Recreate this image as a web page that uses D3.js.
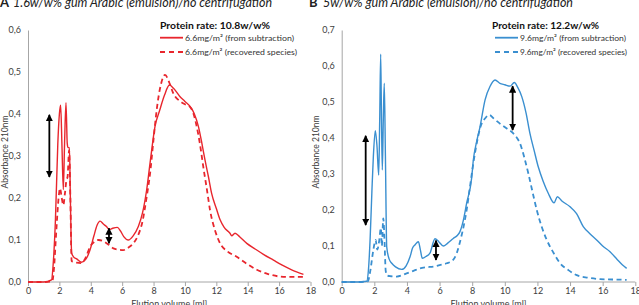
<!DOCTYPE html>
<html><head><meta charset="utf-8">
<script src="https://cdn.jsdelivr.net/npm/d3@7"></script>
<style>body{margin:0;background:#fff}svg{display:block}text{font-family:Lato,"Liberation Sans",sans-serif}</style>
</head><body><svg id="c" width="639" height="305"></svg>
<script>
// ---- data ----
const xTicks = [0,2,4,6,8,10,12,14,16,18];
const yTicksA = [0,0.1,0.2,0.3,0.4,0.5,0.6];
const yTicksB = [0,0.1,0.2,0.3,0.4,0.5,0.6,0.7];

const subA_x = [0,1.0,1.5,1.6,1.75,1.9,2.0,2.08,2.16,2.25,2.33,2.42,2.5,2.55,2.64,2.7,2.78,2.9,3.1,3.4,3.7,3.95,4.2,4.4,4.59,4.8,5.0,5.18,5.4,5.69,5.9,6.1,6.39,6.7,7.03,7.3,7.56,7.8,8.09,8.4,8.7,9.01,9.3,9.69,10.0,10.43,10.6,10.86,11.08,11.28,11.5,11.7,12.0,12.24,12.5,12.87,12.98,13.19,13.5,13.94,14.5,15.0,15.64,16.2,16.8,17.55];
const subA_y = [0,0,0.005,0.04,0.15,0.33,0.40,0.421,0.33,0.22,0.33,0.427,0.33,0.32,0.32,0.2,0.069,0.06,0.055,0.047,0.055,0.076,0.11,0.135,0.145,0.138,0.132,0.125,0.128,0.130,0.121,0.108,0.100,0.110,0.132,0.165,0.219,0.29,0.37,0.41,0.445,0.469,0.46,0.441,0.43,0.413,0.40,0.37,0.33,0.29,0.25,0.211,0.175,0.148,0.13,0.116,0.110,0.116,0.107,0.092,0.078,0.066,0.052,0.04,0.029,0.018];
const recA_x = [0,1.0,1.55,1.65,1.8,1.95,2.04,2.15,2.25,2.35,2.45,2.52,2.62,2.7,2.78,2.9,3.1,3.4,3.7,3.95,4.2,4.5,4.8,5.1,5.44,5.8,6.07,6.4,6.71,7.0,7.3,7.55,7.78,8.0,8.2,8.46,8.73,9.0,9.26,9.7,10.0,10.32,10.55,10.75,10.95,11.17,11.4,11.6,11.9,12.24,12.7,13.3,14.0,14.58,15.3,16.06,16.8,17.55];
const recA_y = [0,0,0.002,0.03,0.12,0.2,0.223,0.2,0.183,0.21,0.243,0.25,0.314,0.2,0.05,0.048,0.046,0.045,0.06,0.084,0.095,0.1,0.097,0.09,0.08,0.077,0.076,0.082,0.092,0.11,0.145,0.2,0.259,0.34,0.41,0.469,0.493,0.475,0.449,0.43,0.423,0.417,0.40,0.37,0.33,0.274,0.22,0.171,0.125,0.092,0.073,0.06,0.042,0.029,0.019,0.013,0.012,0.012];

const subB_x = [0,1.0,1.53,1.65,1.74,1.85,1.94,2.06,2.16,2.27,2.33,2.39,2.44,2.49,2.55,2.61,2.68,2.76,2.9,3.07,3.3,3.68,3.95,4.19,4.35,4.49,4.7,4.82,4.94,5.2,5.41,5.72,5.95,6.23,6.5,6.84,7.1,7.25,7.46,7.66,7.97,8.07,8.25,8.48,8.79,9.09,9.4,9.7,10.0,10.32,10.58,10.8,11.04,11.3,11.54,11.8,12.05,12.35,12.67,13.02,13.22,13.5,14.0,14.4,14.81,15.2,15.63,16.0,16.45,16.9,17.2,17.47];
const subB_y = [0,0,0.002,0.04,0.117,0.25,0.348,0.42,0.38,0.297,0.45,0.633,0.45,0.311,0.45,0.552,0.35,0.098,0.065,0.052,0.042,0.035,0.045,0.07,0.095,0.103,0.112,0.09,0.066,0.072,0.08,0.12,0.112,0.10,0.108,0.121,0.13,0.14,0.172,0.219,0.29,0.339,0.385,0.431,0.506,0.543,0.561,0.552,0.548,0.544,0.554,0.54,0.515,0.47,0.413,0.365,0.32,0.28,0.246,0.22,0.237,0.225,0.209,0.19,0.154,0.135,0.117,0.10,0.084,0.062,0.048,0.038];
const recB_x = [0,1.0,1.6,1.75,1.94,2.08,2.18,2.3,2.4,2.46,2.55,2.62,2.7,2.8,3.0,3.37,3.98,4.4,4.8,5.2,5.62,6.0,6.44,6.8,7.05,7.3,7.5,7.66,7.85,8.07,8.3,8.5,8.8,9.05,9.3,9.7,10.1,10.52,10.75,10.93,11.2,11.44,11.7,11.96,12.25,12.57,13.0,13.39,13.9,14.41,15.1,15.84,16.6,17.47];
const recB_y = [0,0,0.002,0.03,0.089,0.117,0.09,0.115,0.15,0.1,0.177,0.12,0.03,0.018,0.016,0.015,0.024,0.031,0.038,0.041,0.043,0.047,0.052,0.06,0.08,0.12,0.16,0.2,0.26,0.33,0.39,0.43,0.455,0.464,0.455,0.44,0.427,0.413,0.40,0.385,0.345,0.302,0.25,0.2,0.155,0.117,0.08,0.052,0.033,0.019,0.012,0.008,0.007,0.006];

// arrows: [x, yFrom, yTo]
const arrowsA = [[1.36,0.398,0.25],[5.16,0.128,0.092]];
const arrowsB = [[1.47,0.406,0.158],[5.78,0.115,0.061],[10.48,0.544,0.422]];

const titleA = ["A","1.6w/w% gum Arabic (emulsion)/no centrifugation"];
const titleB = ["B","5w/w% gum Arabic (emulsion)/no centrifugation"];
const legendA = ["Protein rate: 10.8w/w%","6.6mg/m² (from subtraction)","6.6mg/m² (recovered species)"];
const legendB = ["Protein rate: 12.2w/w%","9.6mg/m² (from subtraction)","9.6mg/m² (recovered species)"];
const xTitle = "Elution volume [ml]";
const yTitle = "Absorbance 210nm";

// ---- drawing ----
const svg = d3.select("#c");
const defs = svg.append("defs");
defs.append("marker").attr("id","ah").attr("viewBox","0 0 10 10").attr("refX",9).attr("refY",5)
  .attr("markerWidth",4).attr("markerHeight",4).attr("orient","auto-start-reverse")
  .append("path").attr("d","M0,0L10,5L0,10z").attr("fill","#000");

const panels = [
  {L:28,R:310.5,T:30,B:282,ymax:0.6,yt:yTicksA,color:"#e8262d",sub:[subA_x,subA_y],rec:[recA_x,recA_y],arrows:arrowsA,title:titleA,tx:0,tTextX:13,tLen:259,legend:legendA,lx:160,lLen0:110,lLen1:109,lLen2:112,ytx:5},
  {L:341.7,R:635.3,T:30,B:282,ymax:0.7,yt:yTicksB,color:"#3a8fd0",sub:[subB_x,subB_y],rec:[recB_x,recB_y],arrows:arrowsB,title:titleB,tx:309,tTextX:323,tLen:250,legend:legendB,lx:492,lLen0:107,lLen1:106,lLen2:107,ytx:316}
];

panels.forEach(p=>{
  const x = d3.scaleLinear().domain([0,18]).range([p.L,p.R]);
  const y = d3.scaleLinear().domain([0,p.ymax]).range([p.B,p.T]);
  const g = svg.append("g");
  const axc = "#a6a6a6";
  // x axis
  const xa = g.append("g").attr("transform",`translate(0,${p.B})`)
    .call(d3.axisBottom(x).tickValues(xTicks).tickSize(4).tickPadding(2).tickFormat(d3.format("d")));
  xa.select(".domain").attr("stroke",axc).attr("d",`M${p.L},0H${p.R}`);
  xa.selectAll(".tick line").attr("stroke",axc);
  xa.selectAll("text").attr("font-size",9).attr("fill","#404040").attr("font-family","Lato,sans-serif");
  // y axis
  const ya = g.append("g").attr("transform",`translate(${p.L},0)`)
    .call(d3.axisLeft(y).tickValues(p.yt).tickSize(0).tickPadding(7).tickFormat(d=>d3.format(".1f")(d).replace(".",",")));
  ya.select(".domain").attr("stroke",axc);
  ya.selectAll("text").attr("font-size",9).attr("fill","#404040").attr("font-family","Lato,sans-serif");
  // axis titles
  g.append("text").attr("x",(p.L+p.R)/2).attr("y",306.5).attr("text-anchor","middle").attr("font-size",9).attr("fill","#404040").text(xTitle);
  g.append("text").attr("transform",`translate(${p.ytx},152) rotate(-90)`).attr("text-anchor","middle").attr("dy","0.35em").attr("font-size",8.5).attr("fill","#404040").text(yTitle);
  // lines
  const line = d3.line().x(d=>x(d[0])).y(d=>y(d[1])).curve(d3.curveMonotoneX);
  const sub = p.sub[0].map((v,i)=>[v,p.sub[1][i]]);
  const rec = p.rec[0].map((v,i)=>[v,p.rec[1][i]]);
  g.append("path").datum(rec).attr("d",line).attr("fill","none").attr("stroke",p.color).attr("stroke-width",1.8).attr("stroke-dasharray","5,3.5");
  g.append("path").datum(sub).attr("d",line).attr("fill","none").attr("stroke",p.color).attr("stroke-width",1.4);
  // arrows
  p.arrows.forEach(a=>{
    g.append("line").attr("x1",x(a[0])).attr("x2",x(a[0])).attr("y1",y(a[1])).attr("y2",y(a[2]))
      .attr("stroke","#000").attr("stroke-width",1.8).attr("marker-start","url(#ah)").attr("marker-end","url(#ah)");
  });
  // title
  g.append("text").attr("x",p.tx).attr("y",7).attr("font-size",13).attr("font-weight","bold").attr("fill","#222").text(p.title[0]);
  g.append("text").attr("x",p.tTextX).attr("y",7).attr("font-size",13).attr("font-style","italic").attr("fill","#222")
    .attr("textLength",p.tLen).attr("lengthAdjust","spacingAndGlyphs").text(p.title[1]);
  // legend
  g.append("text").attr("x",p.lx).attr("y",28.5).attr("font-size",10).attr("font-weight","bold").attr("fill","#111")
    .attr("textLength",p.lLen0).attr("lengthAdjust","spacingAndGlyphs").text(p.legend[0]);
  const sx = p.lx+ (p.lx<300?0:3);
  g.append("line").attr("x1",sx).attr("x2",sx+23).attr("y1",37.7).attr("y2",37.7).attr("stroke",p.color).attr("stroke-width",1.8);
  g.append("text").attr("x",sx+25).attr("y",40.5).attr("font-size",8).attr("fill","#333")
    .attr("textLength",p.lLen1).attr("lengthAdjust","spacingAndGlyphs").text(p.legend[1]);
  g.append("line").attr("x1",sx).attr("x2",sx+23).attr("y1",52).attr("y2",52).attr("stroke",p.color).attr("stroke-width",1.8).attr("stroke-dasharray","5,4");
  g.append("text").attr("x",sx+25).attr("y",55).attr("font-size",8).attr("fill","#333")
    .attr("textLength",p.lLen2).attr("lengthAdjust","spacingAndGlyphs").text(p.legend[2]);
});
</script></body></html>
